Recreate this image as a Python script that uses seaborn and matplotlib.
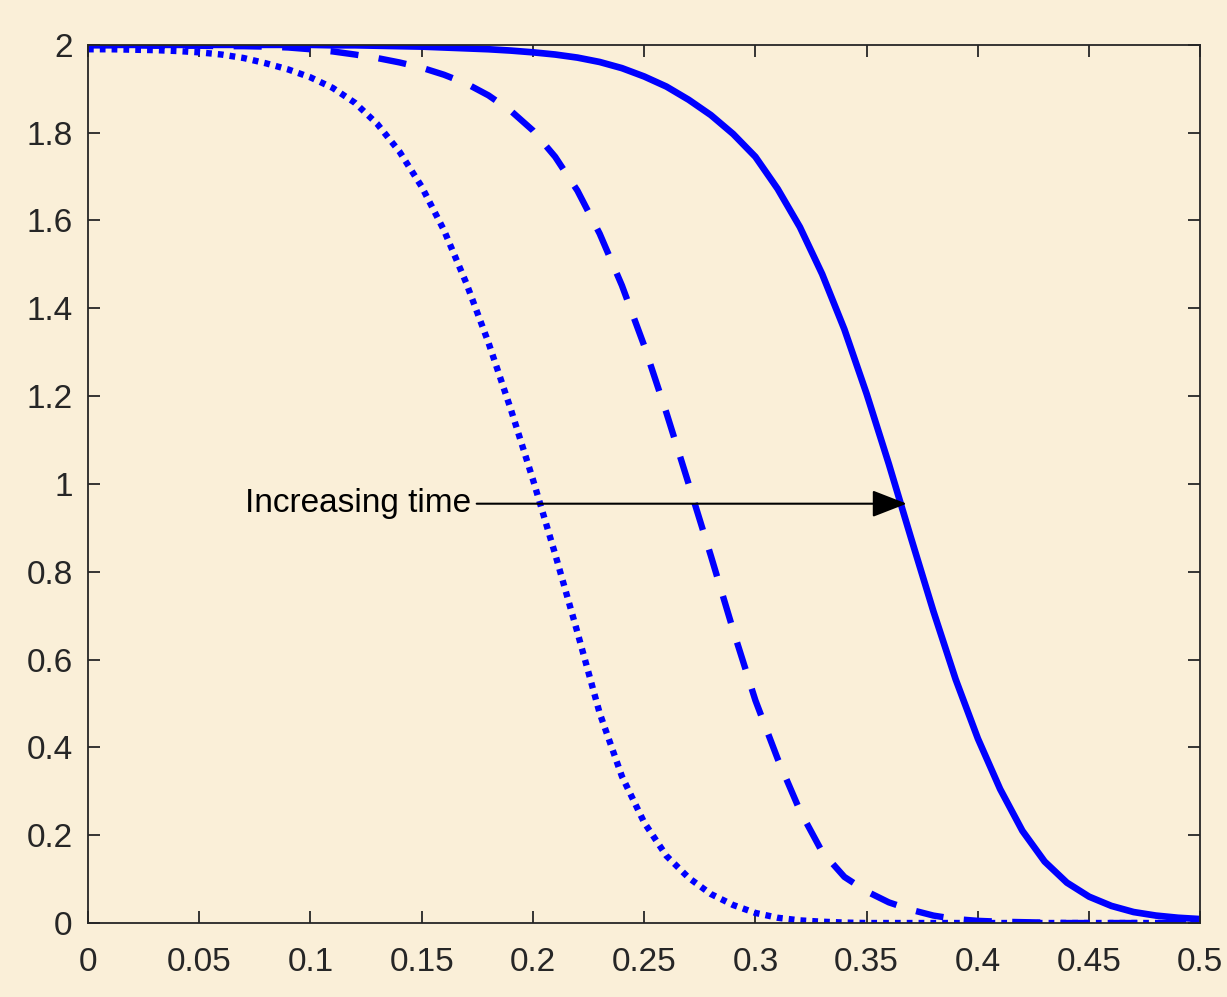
import matplotlib
matplotlib.use('Agg')
import matplotlib.pyplot as plt
import seaborn as sns
import pandas as pd

# x positions of the sampled points
x_vals = [round(0.01 * i, 2) for i in range(51)]

# latest time (solid)
y_solid = [2.0, 2.0, 2.0, 2.0, 2.0, 2.0, 2.0, 2.0, 2.0, 2.0,
           2.0, 1.999, 1.999, 1.998, 1.997, 1.996, 1.994, 1.992, 1.990, 1.987,
           1.983, 1.978, 1.971, 1.961, 1.947, 1.928, 1.905, 1.875, 1.840, 1.797,
           1.745, 1.672, 1.585, 1.478, 1.352, 1.205, 1.045, 0.876, 0.710, 0.555,
           0.420, 0.305, 0.210, 0.140, 0.092, 0.060, 0.039, 0.025, 0.017, 0.012,
           0.009]

# middle time (dashed)
y_dashed = [1.999, 1.999, 1.999, 1.998, 1.998, 1.998, 1.997, 1.997, 1.996, 1.994,
            1.990, 1.985, 1.978, 1.970, 1.960, 1.948, 1.932, 1.912, 1.885, 1.850,
            1.805, 1.745, 1.668, 1.570, 1.452, 1.315, 1.162, 1.000, 0.836, 0.667,
            0.507, 0.374, 0.256, 0.162, 0.105, 0.072, 0.047, 0.030, 0.017, 0.009,
            0.005, 0.003, 0.002, 0.001, 0.0, 0.0, 0.0, 0.0, 0.0, 0.0,
            0.0]

# earliest time (dotted)
y_dotted = [1.990, 1.990, 1.989, 1.988, 1.986, 1.983, 1.978, 1.970, 1.958, 1.944,
            1.926, 1.902, 1.868, 1.820, 1.757, 1.677, 1.578, 1.458, 1.322, 1.171,
            1.010, 0.840, 0.662, 0.478, 0.334, 0.229, 0.153, 0.103, 0.066, 0.041,
            0.023, 0.012, 0.006, 0.003, 0.001, 0.0, 0.0, 0.0, 0.0, 0.0,
            0.0, 0.0, 0.0, 0.0, 0.0, 0.0, 0.0, 0.0, 0.0, 0.0,
            0.0]

x_ticks = [0, 0.05, 0.1, 0.15, 0.2, 0.25, 0.3, 0.35, 0.4, 0.45, 0.5]
x_ticklabels = ['0', '0.05', '0.1', '0.15', '0.2', '0.25', '0.3', '0.35', '0.4', '0.45', '0.5']
y_ticks = [0, 0.2, 0.4, 0.6, 0.8, 1, 1.2, 1.4, 1.6, 1.8, 2]
y_ticklabels = ['0', '0.2', '0.4', '0.6', '0.8', '1', '1.2', '1.4', '1.6', '1.8', '2']

df = pd.DataFrame({'x': x_vals, 'solid': y_solid, 'dashed': y_dashed, 'dotted': y_dotted})

sns.set_style("ticks")
plt.rcParams['font.family'] = ['Liberation Sans', 'DejaVu Sans']

bg = '#FAEFD8'
axcol = '#262626'

fig = plt.figure(figsize=(12.27, 9.97), dpi=100, facecolor=bg)
ax = fig.add_axes([0.0717, 0.0742, 0.9066, 0.8808])
ax.set_facecolor('none')

sns.lineplot(data=df, x='x', y='dotted', ax=ax, color='#0000FF', lw=4.6,
             linestyle=(0, (0.9, 0.95)), solid_capstyle='butt')
sns.lineplot(data=df, x='x', y='dashed', ax=ax, color='#0000FF', lw=4.6,
             linestyle=(0, (4.4, 3.2)))
sns.lineplot(data=df, x='x', y='solid', ax=ax, color='#0000FF', lw=4.8)

ax.set_xlim(0, 0.5)
ax.set_ylim(0, 2)
ax.set_xticks(x_ticks)
ax.set_xticklabels(x_ticklabels)
ax.set_yticks(y_ticks)
ax.set_yticklabels(y_ticklabels)
ax.set_xlabel('')
ax.set_ylabel('')

for s in ax.spines.values():
    s.set_visible(True)
    s.set_color(axcol)
    s.set_linewidth(1.3)
ax.tick_params(axis='both', direction='in', length=8.5, width=1.3, color=axcol,
               labelcolor=axcol, labelsize=24, top=True, right=True)
ax.tick_params(axis='x', pad=17)
ax.tick_params(axis='y', pad=11)

ax.annotate('Increasing time', xy=(0.368, 0.955), xytext=(0.172, 0.955),
            fontsize=24, color='black', va='center', ha='right',
            arrowprops=dict(arrowstyle='-|>,head_length=0.9,head_width=0.35',
                            color='black', lw=1.5, shrinkA=2, shrinkB=0))

fig.savefig('out.png', dpi=100, facecolor=bg)
